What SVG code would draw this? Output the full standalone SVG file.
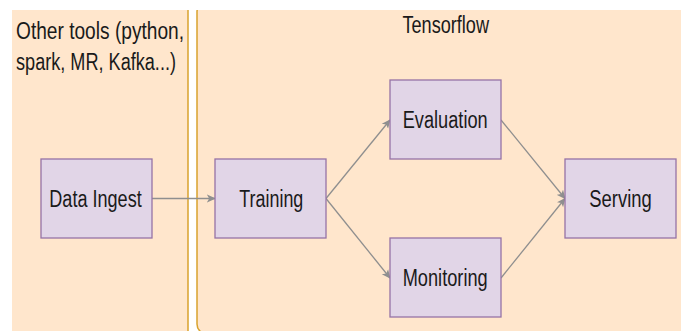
<svg xmlns="http://www.w3.org/2000/svg" width="681" height="331" viewBox="0 0 681 331">
  <style>
    .panel { fill: #FFE6CC; stroke: #D9A32E; stroke-width: 1.5; }
    .node rect { fill: #E1D5E7; stroke: #9673A6; stroke-width: 1.3; }
    text { font-family: "Liberation Sans", Arial, sans-serif; font-size: 23px; fill: #1a1a1a; }
    .edge { fill: none; stroke: #8F8F8F; stroke-width: 1.3; }
  </style>
  <defs>
    <clipPath id="crop"><rect x="12" y="10" width="669" height="321"/></clipPath>
    <marker id="arr" viewBox="0 0 10 10" refX="9" refY="5" markerWidth="9" markerHeight="9" markerUnits="userSpaceOnUse" orient="auto">
      <path d="M0,0.5 L10,5 L0,9.5 L2.5,5 Z" fill="#8F8F8F"/>
    </marker>
  </defs>
  <rect width="681" height="331" fill="#FFFFFF"/>
  <g clip-path="url(#crop)">
    <g id="panel-other">
      <rect class="panel" x="-20" y="-2" width="208" height="350" rx="12"/>
      <text x="16" y="39" textLength="168" lengthAdjust="spacingAndGlyphs">Other tools (python,</text>
      <text x="16" y="69.5" textLength="160" lengthAdjust="spacingAndGlyphs">spark, MR, Kafka...)</text>
    </g>
    <g id="panel-tensorflow">
      <rect class="panel" x="197" y="2" width="500" height="332" rx="10"/>
      <text x="402.5" y="33.3" textLength="86.5" lengthAdjust="spacingAndGlyphs">Tensorflow</text>
    </g>
  </g>
  <g id="connectors">
    <path class="edge" d="M152,198.5 L215,198.5" marker-end="url(#arr)"/>
    <path class="edge" d="M326,198.5 L390,120" marker-end="url(#arr)"/>
    <path class="edge" d="M326,198.5 L390,278" marker-end="url(#arr)"/>
    <path class="edge" d="M501,120 L565,198.5" marker-end="url(#arr)"/>
    <path class="edge" d="M501,278 L565,198.5" marker-end="url(#arr)"/>
  </g>
  <g id="data-ingest" class="node">
    <rect x="41" y="159" width="111" height="79"/>
    <text x="49.3" y="207" textLength="92.4" lengthAdjust="spacingAndGlyphs">Data Ingest</text>
  </g>
  <g id="training" class="node">
    <rect x="215" y="159" width="111" height="79"/>
    <text x="239.3" y="207" textLength="64" lengthAdjust="spacingAndGlyphs">Training</text>
  </g>
  <g id="evaluation" class="node">
    <rect x="390" y="80" width="111" height="79"/>
    <text x="402.7" y="128" textLength="85" lengthAdjust="spacingAndGlyphs">Evaluation</text>
  </g>
  <g id="monitoring" class="node">
    <rect x="390" y="238" width="111" height="79"/>
    <text x="402.7" y="286" textLength="85" lengthAdjust="spacingAndGlyphs">Monitoring</text>
  </g>
  <g id="serving" class="node">
    <rect x="565" y="159" width="111" height="79"/>
    <text x="589.3" y="207" textLength="62.4" lengthAdjust="spacingAndGlyphs">Serving</text>
  </g>
</svg>
